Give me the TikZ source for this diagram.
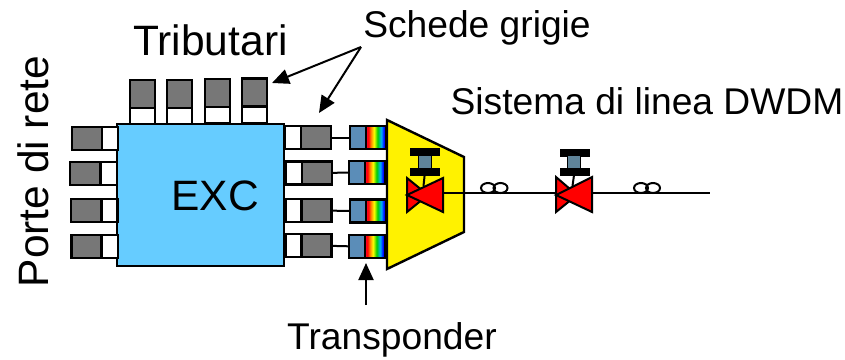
\documentclass[tikz,border=0pt]{standalone}
\usepackage{fontspec}
\setmainfont{Liberation Sans}
\usepackage{tikz}
\usetikzlibrary{shapes.geometric, arrows.meta}
\definecolor{excblue}{HTML}{66CCFF}
\definecolor{portgray}{HTML}{777777}
\definecolor{tpblue}{HTML}{5B8DB8}
\definecolor{actblue}{HTML}{5F8499}
\pgfdeclarehorizontalshading{rainbowband}{100bp}{color(0bp)=(red!80!magenta); color(25bp)=(red!80!magenta); color(31bp)=(red); color(37bp)=(orange); color(45bp)=(yellow); color(54bp)=(green!80!black); color(63bp)=(cyan!70!blue); color(70bp)=(blue); color(75bp)=(blue!70!violet); color(100bp)=(blue!70!violet)}
\tikzstyle{object} = [rectangle, draw=black, line width=2.4pt, inner sep=0pt, outer sep=0pt]
\tikzstyle{exc} = [object, fill=excblue, minimum width=167pt, minimum height=142pt]
\tikzstyle{grayh} = [object, fill=portgray, minimum width=30pt, minimum height=23pt]
\tikzstyle{whiteh} = [object, fill=white, minimum width=16pt, minimum height=23pt]
\tikzstyle{grayv} = [object, fill=portgray, minimum width=25pt, minimum height=28pt]
\tikzstyle{whitev} = [object, fill=white, minimum width=25pt, minimum height=16pt]
\tikzstyle{tpleft} = [object, fill=tpblue, minimum width=16pt, minimum height=23pt]
\tikzstyle{tpright} = [object, shade, shading=rainbowband, minimum width=20pt, minimum height=23pt]
\tikzstyle{bar} = [rectangle, fill=black, inner sep=0pt, minimum width=30pt, minimum height=8pt]
\tikzstyle{act} = [object, line width=1pt, fill=actblue, minimum width=13pt, minimum height=13pt]
\tikzstyle{valve} = [draw=black, fill=red, line width=2pt, line join=miter]
\tikzstyle{coil} = [ellipse, draw=black, line width=2pt, inner sep=0pt, minimum width=14pt, minimum height=10pt]
\tikzstyle{label} = [inner sep=0pt, font=\fontsize{37.2}{40}\selectfont]
\tikzstyle{biglabel} = [inner sep=0pt, font=\fontsize{42.5}{45}\selectfont]
\tikzstyle{line} = [line width=2pt]
\tikzstyle{arrow} = [line width=2pt, -{Triangle[length=17pt,width=15pt]}]

\begin{document}
\begin{tikzpicture}[x=1pt, y=-1pt]
    \useasboundingbox (0,0) rectangle (845,359);
    % central block
    \node (exc) [exc] at (200.5,195) {};
    \node (exctext) [biglabel] at (215,196) {EXC};
    % top ports
    \node (topgraya) [grayv] at (142.5,94) {};
    \node (topwhitea) [whitev] at (142.5,116) {};
    \node (topgrayb) [grayv] at (179.5,94) {};
    \node (topwhiteb) [whitev] at (179.5,116) {};
    \node (topgrayc) [grayv] at (217.5,93) {};
    \node (topwhitec) [whitev] at (217.5,115) {};
    \node (topgrayd) [grayv] at (254.5,92.5) {};
    \node (topwhited) [whitev] at (254.5,115) {};
    % left ports
    \node (leftgraya) [grayh] at (87,138.5) {};
    \node (leftwhitea) [whiteh] at (110,138.5) {};
    \node (leftgrayb) [grayh] at (85,173.5) {};
    \node (leftwhiteb) [whiteh] at (109,173.5) {};
    \node (leftgrayc) [grayh] at (86,210.5) {};
    \node (leftwhitec) [whiteh] at (109.5,210.5) {};
    \node (leftgrayd) [grayh] at (86.5,246.5) {};
    \node (leftwhited) [whiteh] at (110,246.5) {};
    % right ports
    \node (rightwhitea) [whiteh] at (293,137.5) {};
    \node (rightgraya) [grayh] at (316,137.5) {};
    \node (rightwhiteb) [whiteh] at (294,173) {};
    \node (rightgrayb) [grayh] at (317,173) {};
    \node (rightwhitec) [whiteh] at (293.5,210.5) {};
    \node (rightgrayc) [grayh] at (316.5,210.5) {};
    \node (rightwhited) [whiteh] at (293.5,245.5) {};
    \node (rightgrayd) [grayh] at (316.5,245.5) {};
    % transponders
    \node (tpblea) [tpleft] at (358,137.5) {};
    \node (tprainbowa) [tpright] at (376,137.5) {};
    \node (tpbleb) [tpleft] at (357,172.5) {};
    \node (tprainbowb) [tpright] at (375,172.5) {};
    \node (tpblec) [tpleft] at (358,211) {};
    \node (tprainbowc) [tpright] at (376,211) {};
    \node (tpbled) [tpleft] at (357,246.5) {};
    \node (tprainbowd) [tpright] at (375,246.5) {};
    \draw [line] (rightgraya) -- (tpblea);
    \draw [line] (rightgrayb) -- (tpbleb);
    \draw [line] (rightgrayc) -- (tpblec);
    \draw [line] (rightgrayd) -- (tpbled);
    % mux
    \draw [draw=black, fill=yellow, line width=2.4pt] (387,120) -- (464,157) -- (464,232) -- (387,269) -- cycle;
    % trunk line
    \coordinate (valveaout) at (443,192.5);
    \coordinate (valvebin) at (556,192.5);
    \coordinate (valvebout) at (592,192.5);
    \coordinate (lineend) at (710,192.5);
    \draw [line] (valveaout) -- (valvebin);
    \draw [line] (valvebout) -- (lineend);
    % first amplifier
    \node (barupa) [bar] at (425,151.5) {};
    \node (barlowa) [bar] at (425,171.5) {};
    \node (acta) [act] at (424.5,161.5) {};
    \draw [line] (barlowa) -- (423.5,186);
    \draw [valve] (407,178) -- (428,195) -- (407,212) -- cycle;
    \draw [valve] (443,178) -- (407,195) -- (443,212) -- cycle;
    % second amplifier
    \node (barupb) [bar] at (575,152.5) {};
    \node (barlowb) [bar] at (574.5,171.5) {};
    \node (actb) [act] at (574,162) {};
    \draw [line] (barlowb) -- (572.5,186);
    \draw [valve] (556,177) -- (577,195) -- (556,212) -- cycle;
    \draw [valve] (592,177) -- (556,195) -- (592,212) -- cycle;
    % fibre coils
    \node (coila) [coil] at (488,188) {};
    \node (coilb) [coil] at (500.5,188) {};
    \node (coilc) [coil] at (641,188) {};
    \node (coild) [coil] at (653,188) {};
    % labels
    \node (tributari) [biglabel] at (210.5,40) {Tributari};
    \node (porte) [biglabel, rotate=90] at (33,171.5) {Porte di rete};
    \node (schede) [label] at (477,28) {Schede grigie};
    \node (sistema) [label] at (647,101) {Sistema di linea DWDM};
    \node (transponder) [label] at (392,340) {Transponder};
    \coordinate (schedefrom) at (361,47);
    \coordinate (tipgraya) at (272,83);
    \coordinate (tipgrayb) at (319,113);
    \coordinate (tpfrom) at (366,305);
    \coordinate (tiptp) at (366,263);
    \draw [arrow] (schedefrom) -- (tipgraya);
    \draw [arrow] (schedefrom) -- (tipgrayb);
    \draw [arrow] (tpfrom) -- (tiptp);
\end{tikzpicture}
\end{document}
